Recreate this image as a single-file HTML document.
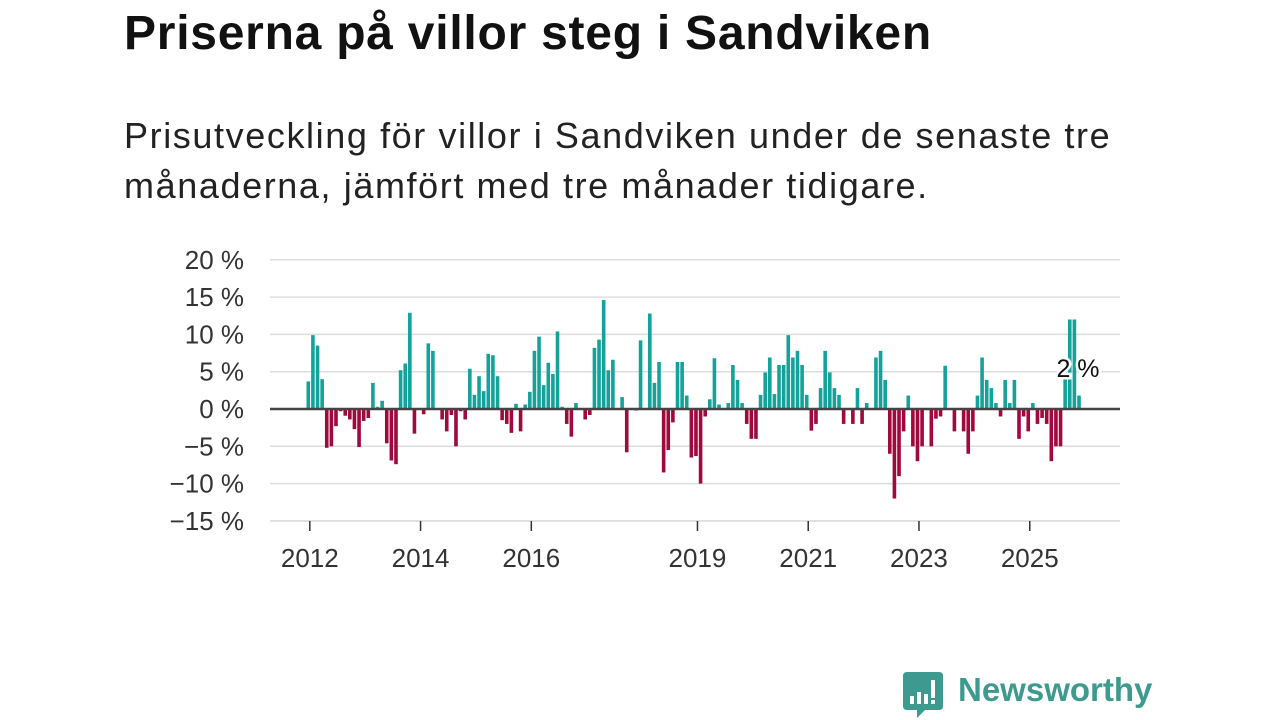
<!DOCTYPE html>
<html><head><meta charset="utf-8">
<style>
body{margin:0;width:1280px;height:720px;background:#fff;overflow:hidden;font-family:"Liberation Sans",sans-serif;}
#title{position:absolute;left:124px;top:6px;font-size:48px;font-weight:bold;color:#111;margin:0;letter-spacing:0.75px;white-space:nowrap}
#sub{position:absolute;left:124px;top:111px;font-size:36px;line-height:50px;color:#222;width:1100px;letter-spacing:1.6px;white-space:nowrap}
svg{position:absolute;left:0;top:0}
</style></head><body>
<h1 id="title">Priserna på villor steg i Sandviken</h1>
<div id="sub">Prisutveckling för villor i Sandviken under de senaste tre<br>månaderna, jämfört med tre månader tidigare.</div>
<svg id="chart" width="1280" height="720"></svg>
<script>
const values = [3.7,9.9,8.5,4,-5.2,-5,-2.3,-0.3,-0.9,-1.4,-2.7,-5.1,-1.6,-1.2,3.5,0.3,1.1,-4.6,-6.9,-7.4,5.2,6.1,12.9,-3.3,0,-0.7,8.8,7.8,0,-1.4,-3,-0.8,-5,-0.3,-1.4,5.4,1.9,4.4,2.4,
7.4,7.2,4.4,-1.5,-2,-3.2,0.7,-3,0.6,2.3,7.8,9.7,3.2,6.2,4.7,10.4,0.3,-2,-3.7,0.8,0,-1.4,-0.8,8.2,9.3,14.6,5.2,6.6,0,1.6,-5.8,0,-0.2,9.2,0,12.8,3.5,6.3,-8.5,-5.5,-1.8,6.3,6.3,1.8,
-6.5,-6.3,-10,-1,1.3,6.8,0.6,0,0.8,5.9,3.9,0.8,-2,-4,-4,1.9,4.9,6.9,2,5.9,5.9,9.9,6.9,7.8,5.9,1.9,-2.9,-2,2.8,7.8,4.9,2.8,1.9,-2,0,-2,2.8,-2,0.8,0,6.9,7.8,3.9,
-6,-12,-9,-3,1.8,-5,-7,-5,0,-5,-1.3,-1,5.8,0,-3,0,-3,-6,-3,1.8,6.9,3.9,2.8,0.8,-1,3.9,0.8,3.9,-4,-1,-3,0.8,-2,-1.2,-2,-7,-5,-5,5,12,12,1.8];
const yTicks = [20,15,10,5,0,-5,-10,-15];
const yTickLabels = ["20 %","15 %","10 %","5 %","0 %","−5 %","−10 %","−15 %"];
const xYears = [2012,2014,2016,2019,2021,2023,2025];
const startYear = 2012;
const lastLabel = "2 %";

const svg = document.getElementById('chart');
const NS = 'http://www.w3.org/2000/svg';
const y = v => 409 - v*7.46;
const x = i => 308.3 + i*4.615;
function mk(t, a){const e=document.createElementNS(NS,t);for(const k in a)e.setAttribute(k,a[k]);svg.appendChild(e);return e;}
yTicks.forEach((t,i)=>{
  if(t!==0){const g=mk('line',{x1:270,x2:1120,y1:y(t),y2:y(t),stroke:'#ddd','stroke-width':1.5});
  
  }
  const tx=mk('text',{x:244,y:y(t)+9,'text-anchor':'end','font-size':26,fill:'#333','font-family':'Liberation Sans, sans-serif'});
  tx.textContent=yTickLabels[i];
  
  
});
values.forEach((v,i)=>{
  const r=mk('rect',{x:x(i)-1.8,width:3.6,y:Math.min(y(v),y(0)),height:Math.abs(y(v)-y(0)),fill:v>=0?'#14a39a':'#a1083c'});
  
  
});
const z=mk('line',{x1:270,x2:1120,y1:y(0),y2:y(0),stroke:'#444','stroke-width':2.5});


const ax=mk('line',{x1:270,x2:1120,y1:521,y2:521,stroke:'#ddd','stroke-width':1.5});


xYears.forEach(yr=>{
  const px=x((yr-startYear)*12)+1.5;
  const tk=mk('line',{x1:px,x2:px,y1:521,y2:531,stroke:'#333','stroke-width':1.5});
  
  
  const t=mk('text',{x:px,y:567,'text-anchor':'middle','font-size':26,fill:'#333','font-family':'Liberation Sans, sans-serif'});
  t.textContent=yr;
  
  
});
const lbl=mk('text',{x:x(values.length-1)-1,y:377,'text-anchor':'middle','font-size':25,fill:'#111',stroke:'#fff','stroke-width':5,'paint-order':'stroke','font-family':'Liberation Sans, sans-serif'});
lbl.textContent=lastLabel;


</script>
<div style="position:absolute;left:903px;top:672px;height:48px;">
  <svg width="42" height="48" style="position:absolute;left:0;top:0">
    <path d="M4 0 H36 Q40 0 40 4 V34 Q40 38 36 38 H22 L14 46 L14 38 H4 Q0 38 0 34 V4 Q0 0 4 0Z" fill="#3e9a8f"/>
    <rect x="7" y="24" width="4" height="8" fill="#fff"/><rect x="14" y="20" width="4" height="12" fill="#fff"/>
    <rect x="21" y="22" width="4" height="10" fill="#fff"/><rect x="28" y="8" width="4" height="18" fill="#fff"/><rect x="28" y="28" width="4" height="4" fill="#fff"/>
  </svg>
  <div style="position:absolute;left:55px;top:-1px;font-size:33px;color:#3e9a8f;font-weight:bold;white-space:nowrap;">Newsworthy</div>
</div>
</body></html>
